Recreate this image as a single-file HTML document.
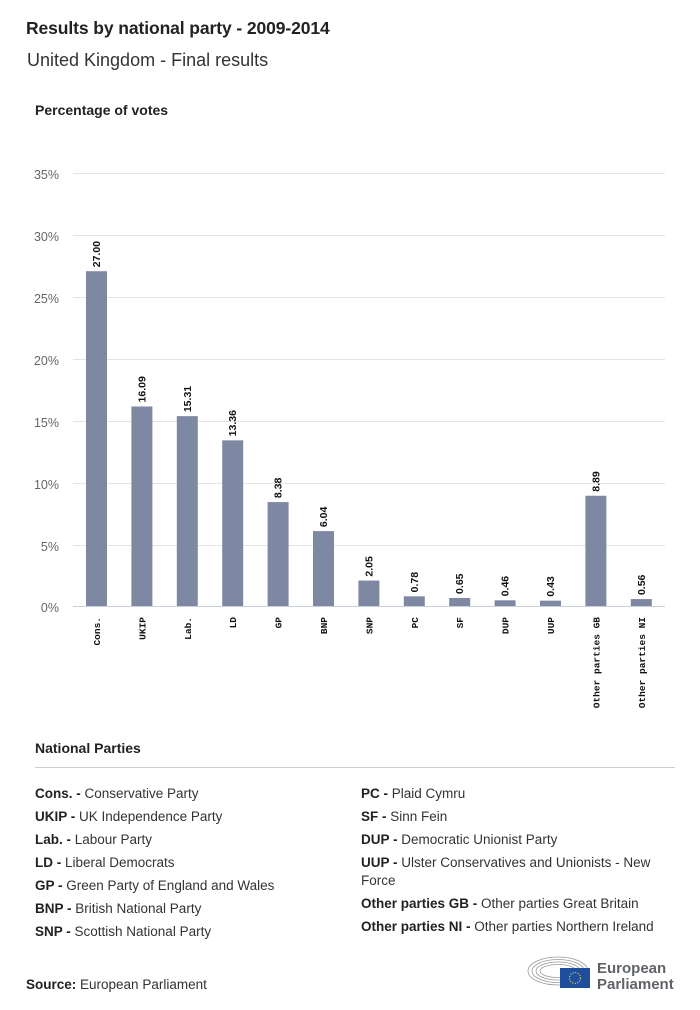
<!DOCTYPE html>
<html><head><meta charset="utf-8"><style>
body{margin:0;background:#fff;width:700px;height:1010px;position:relative;font-family:"Liberation Sans",sans-serif;color:#222;overflow:hidden}
.a{position:absolute;white-space:nowrap}
.t{left:26px;top:18px;font-size:17.5px;font-weight:bold;letter-spacing:-0.1px}
.s{left:27px;top:50px;font-size:18px;color:#333}
.p{left:35px;top:102px;font-size:14px;font-weight:bold}
.l{font-size:13.5px;color:#333}
.l b{color:#222}
</style></head><body>
<div class="a t">Results by national party - 2009-2014</div>
<div class="a s">United Kingdom - Final results</div>
<div class="a p">Percentage of votes</div>
<svg class="a" style="left:0;top:0" width="700" height="740">
<g stroke="#e4e4e4" stroke-width="1">
<line x1="73" x2="665" y1="173.5" y2="173.5"/><line x1="73" x2="665" y1="235.5" y2="235.5"/><line x1="73" x2="665" y1="297.5" y2="297.5"/><line x1="73" x2="665" y1="359.5" y2="359.5"/><line x1="73" x2="665" y1="421.5" y2="421.5"/><line x1="73" x2="665" y1="483.5" y2="483.5"/><line x1="73" x2="665" y1="545.5" y2="545.5"/>
</g>
<line x1="73" x2="665" y1="606.5" y2="606.5" stroke="#c8cfdc"/>
<g font-family="Liberation Sans" font-size="12.5" fill="#666" text-anchor="end">
<text x="59" y="179">35%</text><text x="59" y="241">30%</text><text x="59" y="303">25%</text><text x="59" y="365">20%</text><text x="59" y="427">15%</text><text x="59" y="489">10%</text><text x="59" y="551">5%</text><text x="59" y="612">0%</text>
</g>
<g fill="#7f88a3" id="bars"></g>
<g id="vl" font-family="Liberation Sans" font-size="10.5" font-weight="bold" fill="#111"></g>
<g id="xl" font-family="Liberation Mono" font-size="9.5" font-weight="bold" fill="#111"></g>
</svg>
<script>
var d=[["Cons.",27.00,"27.00"],["UKIP",16.09,"16.09"],["Lab.",15.31,"15.31"],["LD",13.36,"13.36"],["GP",8.38,"8.38"],["BNP",6.04,"6.04"],["SNP",2.05,"2.05"],["PC",0.78,"0.78"],["SF",0.65,"0.65"],["DUP",0.46,"0.46"],["UUP",0.43,"0.43"],["Other parties GB",8.89,"8.89"],["Other parties NI",0.56,"0.56"]];
var ns="http://www.w3.org/2000/svg",b=document.getElementById("bars"),v=document.getElementById("vl"),x=document.getElementById("xl");
d.forEach(function(e,i){var c=96.5+45.4*i,h=e[1]*12.4,y=606-h;
var r=document.createElementNS(ns,"rect");r.setAttribute("x",c-10.5);r.setAttribute("y",y);r.setAttribute("width",21);r.setAttribute("height",h);b.appendChild(r);
var t=document.createElementNS(ns,"text");t.setAttribute("transform","translate("+(c+3.5)+","+(y-4)+") rotate(-90)");t.textContent=e[2];v.appendChild(t);
var u=document.createElementNS(ns,"text");u.setAttribute("text-anchor","end");u.setAttribute("transform","translate("+(c+3.5)+",617) rotate(-90)");u.textContent=e[0];x.appendChild(u);});
</script>
<div class="a" style="left:35px;top:740px;font-size:14px;font-weight:bold">National Parties</div>
<div class="a" style="left:35px;top:767px;width:640px;height:1px;background:#ccc"></div>
<div class="a l" style="left:35px;top:786px"><b>Cons. -</b> Conservative Party</div>
<div class="a l" style="left:35px;top:809px"><b>UKIP -</b> UK Independence Party</div>
<div class="a l" style="left:35px;top:832px"><b>Lab. -</b> Labour Party</div>
<div class="a l" style="left:35px;top:855px"><b>LD -</b> Liberal Democrats</div>
<div class="a l" style="left:35px;top:878px"><b>GP -</b> Green Party of England and Wales</div>
<div class="a l" style="left:35px;top:901px"><b>BNP -</b> British National Party</div>
<div class="a l" style="left:35px;top:924px"><b>SNP -</b> Scottish National Party</div>
<div class="a l" style="left:361px;top:786px"><b>PC -</b> Plaid Cymru</div>
<div class="a l" style="left:361px;top:809px"><b>SF -</b> Sinn Fein</div>
<div class="a l" style="left:361px;top:832px"><b>DUP -</b> Democratic Unionist Party</div>
<div class="a l" style="left:361px;top:855px"><b>UUP -</b> Ulster Conservatives and Unionists - New</div>
<div class="a l" style="left:361px;top:873px">Force</div>
<div class="a l" style="left:361px;top:896px"><b>Other parties GB -</b> Other parties Great Britain</div>
<div class="a l" style="left:361px;top:919px"><b>Other parties NI -</b> Other parties Northern Ireland</div>
<div class="a" style="left:26px;top:977px;font-size:13.5px;color:#333"><b style="color:#222">Source:</b> European Parliament</div>
<svg class="a" style="left:525px;top:952px" width="70" height="40">
<g fill="none" stroke="#999" stroke-width="0.8">
<ellipse cx="33" cy="19" rx="30" ry="14"/><ellipse cx="33" cy="19" rx="26" ry="11.5"/><ellipse cx="33" cy="19" rx="22" ry="9"/><ellipse cx="33" cy="19" rx="18" ry="6.5"/>
</g>
<rect x="35" y="16" width="30" height="20" fill="#1f4f9c"/>
<circle cx="50" cy="26" r="5.5" fill="none" stroke="#f3d24a" stroke-width="1.2" stroke-dasharray="1 1.6"/>
</svg>
<div class="a" style="left:597px;top:961px;font-size:15px;font-weight:bold;color:#5f6368;line-height:16px">European<br>Parliament</div>
</body></html>
